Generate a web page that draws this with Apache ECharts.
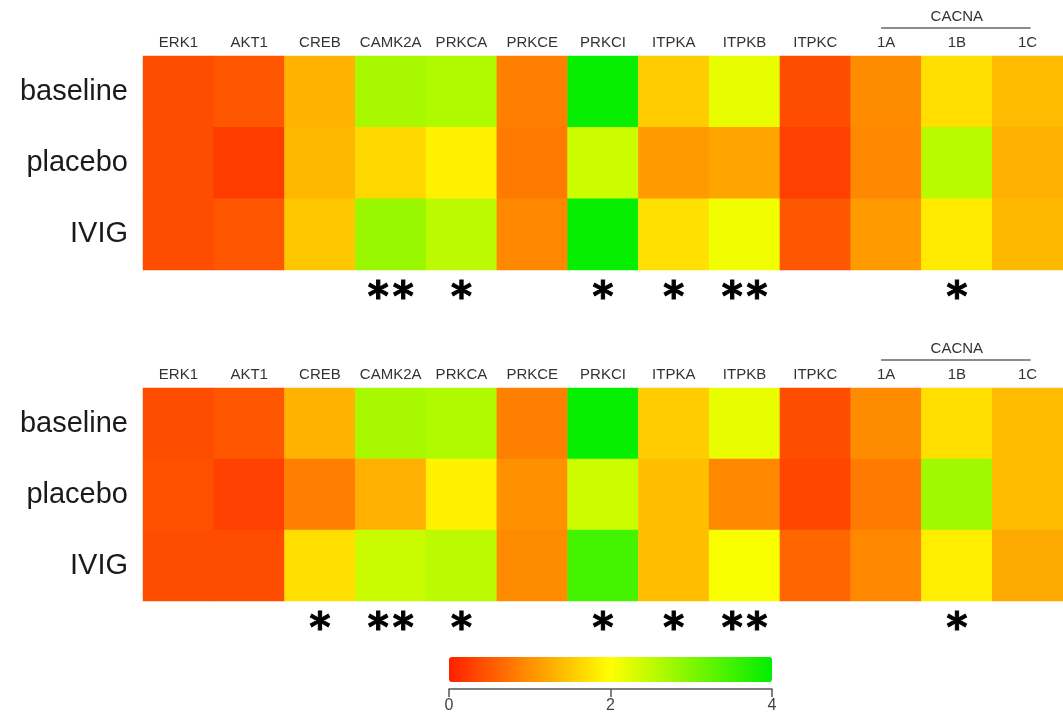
<!DOCTYPE html>
<html>
<head>
<meta charset="utf-8">
<script src="https://cdn.jsdelivr.net/npm/echarts@6/dist/echarts.min.js"></script>
<style>html,body{margin:0;padding:0;background:#fff;}#c{width:1063px;height:715px;}</style>
</head>
<body>
<div id="c"></div>
<script>
const genes = ['ERK1','AKT1','CREB','CAMK2A','PRKCA','PRKCE','PRKCI','ITPKA','ITPKB','ITPKC','1A','1B','1C'];
const groups = ['baseline','placebo','IVIG'];
const groupLabel = 'CACNA';
const groupMembers = ['1A','1B','1C'];

// top panel
const topBaseline = [0.40,0.48,1.32,2.68,2.62,0.86,3.95,1.54,2.18,0.40,0.97,1.70,1.39];
const topPlacebo  = [0.40,0.25,1.36,1.65,1.87,0.81,2.40,1.09,1.19,0.29,0.93,2.56,1.29];
const topIVIG     = [0.40,0.48,1.50,2.80,2.53,0.93,3.95,1.72,2.12,0.48,1.09,1.81,1.36];
const topStars    = ['','','','**','*','','*','*','**','','','*',''];

// bottom panel
const botBaseline = [0.40,0.48,1.32,2.68,2.62,0.86,3.95,1.54,2.18,0.40,0.97,1.70,1.39];
const botPlacebo  = [0.43,0.29,0.86,1.29,1.87,1.00,2.40,1.43,0.93,0.33,0.81,2.75,1.39];
const botIVIG     = [0.40,0.40,1.70,2.43,2.53,0.97,3.47,1.43,2.05,0.63,0.93,1.85,1.24];
const botStars    = ['','','*','**','*','','*','*','**','','','*',''];

const scaleTicks = [0, 2, 4];

function cells(rows) {
  const out = [];
  rows.forEach((r, yi) => r.forEach((v, xi) => out.push([xi, yi, v])));
  return out;
}

const FONT = 'Liberation Sans';
const chart = echarts.init(document.getElementById('c'), null, {renderer: 'canvas'});

const gridW = 13 * 71.4;
const geneAxis = (gi) => ({
  type: 'category', gridIndex: gi, position: 'top', data: genes,
  axisLine: {show: false}, axisTick: {show: false},
  axisLabel: {fontFamily: FONT, fontSize: 15, color: '#333', margin: 6, interval: 0}
});
const starAxis = (gi, stars) => ({
  type: 'category', gridIndex: gi, position: 'bottom', data: genes,
  axisLine: {show: false}, axisTick: {show: false},
  axisLabel: {
    interval: 0, margin: 10, fontFamily: 'DejaVu Sans', fontWeight: 'bold', fontSize: 40, color: '#000',
    textBorderColor: '#000', textBorderWidth: 1,
    formatter: (v, i) => stars[i].split('').join('\u200a')
  }
});
const rowAxis = (gi) => ({
  type: 'category', gridIndex: gi, data: groups, inverse: true,
  axisLine: {show: false}, axisTick: {show: false},
  axisLabel: {fontFamily: FONT, fontSize: 29, color: '#1a1a1a', margin: 15}
});

chart.setOption({
  animation: false,
  backgroundColor: '#fff',
  grid: [
    {left: 143, top: 56, width: gridW, height: 214},
    {left: 143, top: 388, width: gridW, height: 213},
    {left: 449, top: 688, width: 323, height: 1}
  ],
  xAxis: [
    geneAxis(0), starAxis(0, topStars),
    geneAxis(1), starAxis(1, botStars),
    {type: 'value', gridIndex: 2, min: 0, max: 4, interval: 2, position: 'bottom',
     splitLine: {show: false},
     axisLine: {show: true, lineStyle: {color: '#555', width: 1.5}},
     axisTick: {show: true, length: 8, lineStyle: {color: '#555', width: 1.5}},
     axisLabel: {fontFamily: FONT, fontSize: 16, color: '#444', margin: 9,
       formatter: (v) => scaleTicks.indexOf(v) >= 0 ? String(v) : ''}}
  ],
  yAxis: [
    rowAxis(0), rowAxis(1),
    {type: 'value', gridIndex: 2, show: false}
  ],
  visualMap: {
    type: 'continuous', min: 0, max: 4, seriesIndex: [0, 1],
    orient: 'horizontal', left: 449, top: 657, itemWidth: 25, itemHeight: 323,
    padding: 0, calculable: false, hoverLink: false, text: null, showLabel: false,
    inRange: {color: ['#ff2000', '#ffff00', '#00ee00']}
  },
  series: [
    {type: 'heatmap', xAxisIndex: 0, yAxisIndex: 0, data: cells([topBaseline, topPlacebo, topIVIG]),
     emphasis: {disabled: true}, itemStyle: {borderWidth: 0}},
    {type: 'heatmap', xAxisIndex: 2, yAxisIndex: 1, data: cells([botBaseline, botPlacebo, botIVIG]),
     emphasis: {disabled: true}, itemStyle: {borderWidth: 0}}
  ]
});

// CACNA bracket over its member columns, placed from the axis scale
function bracket(axisIdx, textY, lineY) {
  const a = chart.convertToPixel({xAxisIndex: axisIdx}, groupMembers[0]);
  const b = chart.convertToPixel({xAxisIndex: axisIdx}, groupMembers[groupMembers.length - 1]);
  const x1 = a - 5, x2 = b + 3;
  return [
    {type: 'line', shape: {x1: x1, y1: lineY, x2: x2, y2: lineY}, style: {stroke: '#666', lineWidth: 1.5}},
    {type: 'text', x: (a + b) / 2, y: textY, style: {text: groupLabel, font: '15px ' + FONT, fill: '#333', align: 'center', verticalAlign: 'middle'}}
  ];
}
chart.setOption({graphic: bracket(0, 17, 28).concat(bracket(2, 349, 360))});
</script>
</body>
</html>
